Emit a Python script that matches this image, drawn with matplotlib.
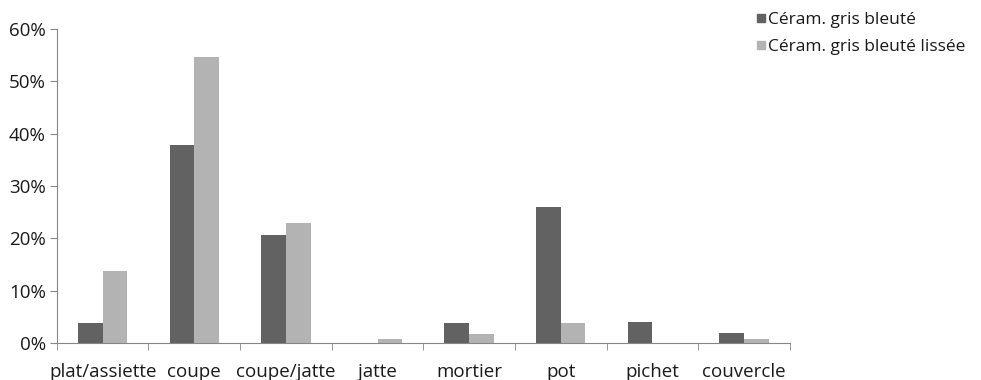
import numpy as np
import matplotlib.pyplot as plt
from matplotlib.ticker import PercentFormatter
from matplotlib.lines import Line2D

plt.rcParams['font.family'] = ['Open Sans', 'DejaVu Sans']

categories = ['plat/assiette', 'coupe', 'coupe/jatte', 'jatte', 'mortier',
              'pot', 'pichet', 'couvercle']
gris_bleute = [3.8, 37.8, 20.7, 0.0, 3.8, 25.9, 4.1, 1.9]
gris_bleute_lisse = [13.8, 54.7, 23.0, 0.7, 1.8, 3.8, 0.0, 0.7]
series_names = ['Céram. gris bleuté', 'Céram. gris bleuté lissée']
colors = ['#626262', '#b3b3b3']
axis_col = '#868686'

fig = plt.figure(figsize=(9.81, 3.8), dpi=100)
ax = fig.add_axes([0.058, 0.097, 0.747, 0.827])

x = np.arange(len(categories))
w = 0.27
ax.bar(x - w / 2, gris_bleute, w, color=colors[0])
ax.bar(x + w / 2, gris_bleute_lisse, w, color=colors[1])

ax.set_xlim(-0.5, len(categories) - 0.5)
ax.set_ylim(0, 60)
ax.set_yticks(np.arange(0, 61, 10))
ax.yaxis.set_major_formatter(PercentFormatter(decimals=0))

ax.set_xticks(x)
ax.set_xticklabels(categories)
ax.set_xticks(np.arange(-0.5, len(categories), 1), minor=True)
ax.tick_params(axis='x', which='major', length=0, pad=14, labelsize=13.5,
               labelcolor='#1a1a1a')
ax.tick_params(axis='x', which='minor', length=5, color=axis_col, direction='out')
ax.tick_params(axis='y', length=5, color=axis_col, labelsize=13.5,
               labelcolor='#1a1a1a', pad=3)

for s in ['top', 'right']:
    ax.spines[s].set_visible(False)
for s in ['left', 'bottom']:
    ax.spines[s].set_color(axis_col)

handles = [Line2D([], [], marker='s', linestyle='none', markersize=6,
                  color=c) for c in colors]
fig.legend(handles, series_names, loc='upper left', bbox_to_anchor=(0.763, 0.987),
           frameon=False, fontsize=12.5, handlelength=0.6, handletextpad=0.15,
           labelspacing=0.6, borderaxespad=0, labelcolor='#1a1a1a')

fig.savefig('out.png', dpi=100)
